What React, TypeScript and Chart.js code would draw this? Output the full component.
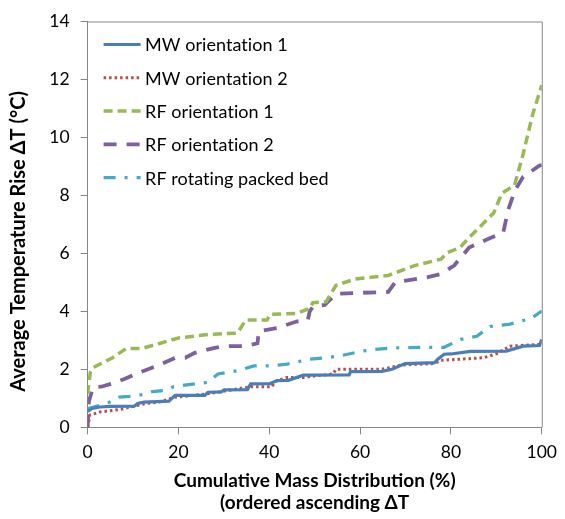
import React, { useEffect, useRef } from "react";
import { Chart, registerables } from "chart.js";
Chart.register(...registerables);

const seriesNames = ["MW orientation 1", "MW orientation 2", "RF orientation 1", "RF orientation 2", "RF rotating packed bed"];
const seriesColors = ["#4A7EBB", "#BE4B48", "#98B954", "#7D60A0", "#46AAC5"];
const seriesDash = [[], [2.5, 3], [9, 5], [13, 10], [12, 9, 3, 9]];
const seriesWidth = [3.2, 3, 3.5, 3.8, 3.2];

const xTitle = ["Cumulative Mass Distribution (%)", "(ordered ascending ΔT"];
const yTitle = "Average Temperature Rise ΔT (°C)\u00A0\u00A0\u00A0\u00A0\u00A0\u00A0\u00A0";

const mw1X = [0, 1, 2.7, 5, 10.3, 11, 12.4, 17.9, 19.3, 25.8, 26.5, 29.4, 30.1, 35.2, 35.9, 40.2, 41.7, 44.2, 47.5, 57.6, 57.9, 64.8, 67, 69.9, 76.4, 77.1, 78.5, 80, 84.3, 92.2, 95.9, 99.5, 100];
const mw1Y = [0.55, 0.65, 0.7, 0.72, 0.73, 0.82, 0.87, 0.9, 1.1, 1.1, 1.21, 1.22, 1.29, 1.3, 1.5, 1.51, 1.61, 1.62, 1.8, 1.81, 1.92, 1.93, 2.0, 2.2, 2.23, 2.35, 2.52, 2.53, 2.62, 2.63, 2.8, 2.82, 3.03];

const mw2X = [0, 0.5, 2.7, 7, 9.9, 12.8, 15.7, 19.3, 25.1, 28.7, 31.6, 35.9, 40.6, 41.3, 43.9, 47.5, 50.4, 52.5, 54, 54.7, 64.8, 69.1, 76.4, 77.8, 87.2, 90.1, 93, 99.5, 100];
const mw2Y = [0, 0.42, 0.53, 0.61, 0.72, 0.82, 0.87, 1.04, 1.13, 1.21, 1.29, 1.4, 1.4, 1.58, 1.72, 1.72, 1.78, 1.81, 1.84, 2.0, 2.0, 2.15, 2.2, 2.31, 2.4, 2.54, 2.8, 2.86, 3.0];

const rf1X = [0, 0.6, 1.2, 3, 5.5, 8.5, 12, 16, 20, 26.5, 33, 34.8, 39.5, 40.2, 46, 48.9, 49.6, 52.5, 54.7, 59, 66.2, 72, 77.8, 79.2, 82, 83.6, 89.4, 91.2, 94, 95.9, 98, 100];
const rf1Y = [1.15, 1.9, 2.06, 2.2, 2.4, 2.72, 2.72, 2.9, 3.08, 3.2, 3.25, 3.7, 3.7, 3.9, 3.93, 4.1, 4.3, 4.33, 4.9, 5.12, 5.24, 5.58, 5.8, 6.03, 6.2, 6.48, 7.39, 8.07, 8.35, 9.43, 10.8, 11.8];

const rf2X = [0, 0.3, 1.2, 3, 6.3, 8.1, 11.4, 15.3, 19.3, 21.5, 23.6, 28, 30.1, 34.8, 37.4, 37.7, 41.7, 46, 48.5, 48.9, 49.6, 52.2, 54.7, 66.2, 67.7, 74.9, 77.8, 80.7, 84, 87.9, 91.5, 92.6, 94.1, 95.9, 99.5, 100];
const rf2Y = [0, 0.9, 1.38, 1.4, 1.55, 1.67, 1.89, 2.12, 2.4, 2.4, 2.57, 2.74, 2.8, 2.8, 2.9, 3.31, 3.42, 3.65, 3.7, 4.0, 4.16, 4.22, 4.61, 4.67, 5.0, 5.18, 5.29, 5.58, 6.2, 6.48, 6.71, 7.5, 8.18, 8.64, 9.03, 9.05];

const rfbX = [0, 2.7, 4.9, 7, 9.2, 11.7, 14.2, 17.1, 18.9, 22.2, 26.5, 28.7, 33, 36.6, 40.2, 43.9, 48.9, 52.5, 55.4, 60.5, 63.4, 67, 75.6, 78.5, 82.1, 85.7, 88.6, 93, 97.7, 100];
const rfbY = [0.65, 0.76, 0.87, 1.04, 1.07, 1.12, 1.23, 1.27, 1.4, 1.47, 1.55, 1.84, 1.95, 2.12, 2.12, 2.18, 2.35, 2.4, 2.46, 2.63, 2.69, 2.74, 2.76, 2.76, 3.03, 3.14, 3.48, 3.56, 3.76, 4.01];

const seriesX = [mw1X, mw2X, rf1X, rf2X, rfbX];
const seriesY = [mw1Y, mw2Y, rf1Y, rf2Y, rfbY];

const FONT = "Lato, 'Open Sans', sans-serif";
const AXIS_COLOR = "#868686";

const boxPlugin = {
  id: "boxAndLegend",
  afterDraw(chart: any) {
    const { ctx, chartArea } = chart;
    const { left, right, top, bottom } = chartArea;
    ctx.save();
    ctx.strokeStyle = AXIS_COLOR;
    ctx.lineWidth = 1;
    ctx.setLineDash([]);
    ctx.beginPath();
    ctx.moveTo(left, top + 0.5);
    ctx.lineTo(right + 0.5, top + 0.5);
    ctx.lineTo(right + 0.5, bottom);
    ctx.stroke();

    // legend
    const x0 = left + 16;
    const x1 = left + 53;
    const tx = left + 57.5;
    ctx.font = `18px ${FONT}`;
    try { (ctx as any).letterSpacing = "0.05px"; } catch (e) {}
    ctx.textBaseline = "middle";
    ctx.textAlign = "left";
    seriesNames.forEach((name, i) => {
      const y = top + 23 + i * 33.3;
      ctx.strokeStyle = seriesColors[i];
      ctx.lineWidth = seriesWidth[i];
      ctx.setLineDash(seriesDash[i]);
      ctx.lineCap = "butt";
      ctx.beginPath();
      ctx.moveTo(x0, y);
      ctx.lineTo(x1, y);
      ctx.stroke();
      ctx.setLineDash([]);
      ctx.fillStyle = "#000";
      ctx.fillText(name, tx, y + 1);
    });
    ctx.restore();
  },
};

export default function App() {
  const ref = useRef<HTMLCanvasElement | null>(null);
  useEffect(() => {
    if (!ref.current) return;
    const datasets = seriesNames.map((name, i) => ({
      label: name,
      data: seriesX[i].map((x, j) => ({ x, y: seriesY[i][j] })),
      borderColor: seriesColors[i],
      backgroundColor: seriesColors[i],
      borderWidth: seriesWidth[i],
      borderDash: seriesDash[i],
      pointRadius: 0,
      tension: 0,
      fill: false,
    }));
    const chart = new Chart(ref.current, {
      type: "line",
      data: { datasets },
      options: {
        animation: false,
        responsive: false,
        layout: { padding: { top: 15.5, right: 16, left: 0, bottom: 0 } },
        plugins: { legend: { display: false }, tooltip: { enabled: false } },
        scales: {
          x: {
            type: "linear",
            min: 0,
            max: 100,
            afterFit: (s: any) => { s.height = 91.7; },
            ticks: { stepSize: 20, color: "#000", padding: 8, font: { family: FONT, size: 17.5 }, maxRotation: 0 },
            grid: { display: true, drawOnChartArea: false, drawTicks: true, tickLength: 7, color: AXIS_COLOR },
            border: { display: true, color: AXIS_COLOR, width: 1 },
            title: {
              display: true,
              text: xTitle,
              color: "#000",
              font: { family: FONT, size: 19, weight: "bold", lineHeight: 1.16 },
              padding: { top: 0, bottom: 5 },
            },
          },
          y: {
            type: "linear",
            min: 0,
            max: 14,
            afterFit: (s: any) => { s.width = 87.6; },
            ticks: { stepSize: 2, color: "#000", padding: 11, font: { family: FONT, size: 17.5 } },
            grid: { display: true, drawOnChartArea: false, drawTicks: true, tickLength: 7, color: AXIS_COLOR },
            border: { display: true, color: AXIS_COLOR, width: 1 },
            title: {
              display: true,
              text: yTitle,
              color: "#000",
              font: { family: FONT, size: 20, weight: "bold" },
              padding: { top: 6.5, bottom: 0 },
            },
          },
        },
      } as any,
      plugins: [boxPlugin],
    });
    return () => chart.destroy();
  }, []);
  return (
    <div style={{ position: "fixed", left: 0, top: 0, width: 565, height: 519, background: "#fff" }}>
      <canvas ref={ref} width={565} height={519} />
    </div>
  );
}
